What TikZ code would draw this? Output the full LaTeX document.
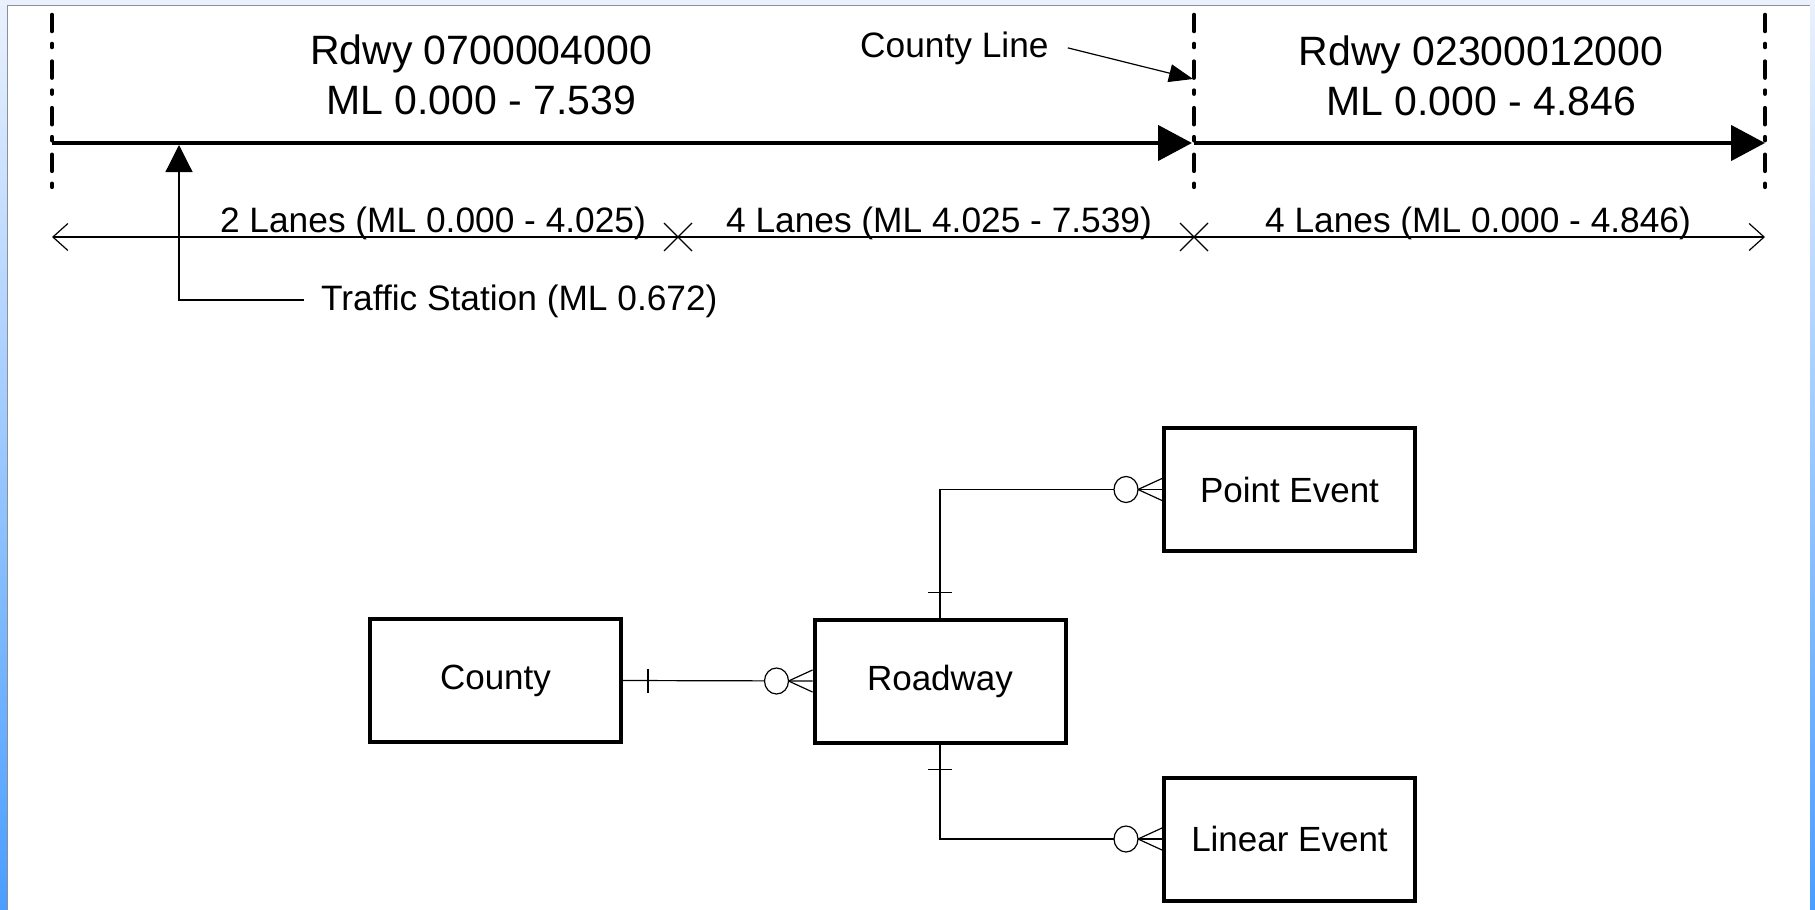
\documentclass[tikz,border=0pt]{standalone}
\usepackage{fontspec}
\setmainfont{Liberation Sans}
\usetikzlibrary{arrows.meta,calc}
\definecolor{frameblue}{HTML}{4A9EFF}
\definecolor{framelight}{HTML}{EAF1FD}
\definecolor{framegrey}{HTML}{8A9099}
\begin{document}
\begin{tikzpicture}[x=1pt,y=-1pt,
  bigtext/.style={font=\fontsize{41}{50}\selectfont, inner sep=0pt},
  smalltext/.style={font=\fontsize{35.3}{42}\selectfont, inner sep=0pt},
  entity/.style={draw, line width=4pt, minimum width=251pt, minimum height=123pt, font=\fontsize{35}{42}\selectfont, inner sep=0pt},
  roadline/.style={line width=4.5pt, -{Triangle[length=34pt,width=35pt]}},
  boundary/.style={line width=4pt, line cap=round, dash pattern=on 16.6pt off 12.4pt on 3.6pt off 14pt},
  thinline/.style={line width=1.2pt},
  rel/.style={line width=1.2pt},
]
\useasboundingbox (0,0) rectangle (1815,910);
% window frame
\fill[white] (0,0) rectangle (1815,910);
\fill[framelight] (0,0) rectangle (1815,5);
\shade[top color=framelight, bottom color=frameblue] (0,0) rectangle (7,910);
\shade[top color=framelight, bottom color=frameblue] (1810,0) rectangle (1815,910);
\draw[framegrey, line width=1pt] (7.5,910) -- (7.5,5.5) -- (1810,5.5);

% boundaries
\coordinate (L0) at (52,143);
\coordinate (M0) at (1194,143);
\coordinate (R0) at (1765,143);
\coordinate (Mend) at (1192,143);
\draw[boundary] (52,14.7) -- (52,190);
\draw[boundary] (1194,14.7) -- (1194,192);
\draw[boundary] (1765,14.7) -- (1765,190);

% roadways
\draw[roadline] (L0) -- (Mend);
\draw[roadline] (M0) -- (R0);

% titles
\node[bigtext, anchor=base] (t1a) at (481,64) {Rdwy 0700004000};
\node[bigtext, anchor=base] (t1b) at (481,114) {ML 0.000 - 7.539};
\node[bigtext, anchor=base] (t2a) at (1481,65) {Rdwy 02300012000};
\node[bigtext, anchor=base] (t2b) at (1481,115) {ML 0.000 - 4.846};

% county line label
\node[smalltext, anchor=base west] (cline) at (860,57) {County Line};
\coordinate (ctip) at (1193,79);
\draw[thinline, -{Triangle[length=24pt,width=18pt]}] ([xshift=19pt]cline.east) -- (ctip);

% lanes dimension line
\coordinate (D0) at (52,237);
\coordinate (D1) at (1765,237);
\draw[thinline, {Straight Barb[length=15pt,width=27pt]}-{Straight Barb[length=15pt,width=27pt]}] (D0) -- (D1);
\coordinate (X1) at (678,237);
\coordinate (X2) at (1194,237);
\draw[thinline] ($(X1)+(-14,-14)$) -- ($(X1)+(14,14)$) ($(X1)+(-14,14)$) -- ($(X1)+(14,-14)$);
\draw[thinline] ($(X2)+(-14,-14)$) -- ($(X2)+(14,14)$) ($(X2)+(-14,14)$) -- ($(X2)+(14,-14)$);
\node[smalltext, anchor=base] (lane1) at (433,232) {2 Lanes (ML 0.000 - 4.025)};
\node[smalltext, anchor=base] (lane2) at (939,232) {4 Lanes (ML 4.025 - 7.539)};
\node[smalltext, anchor=base] (lane3) at (1478,232) {4 Lanes (ML 0.000 - 4.846)};

% traffic station
\node[smalltext, anchor=base west] (ts) at (321,310) {Traffic Station (ML 0.672)};
\coordinate (tstip) at (179,145);
\coordinate (tsend) at (304,300);
\draw[thinline, -{Triangle[length=27pt,width=27pt]}] (tsend) -| (tstip);

% entities
\node[entity] (county) at (495.5,680.5) {County};
\node[entity] (road) at (940,681) {Roadway};
\node[entity] (pe) at (1289.5,489.5) {Point Event};
\node[entity] (le) at (1289.5,839) {Linear Event};

% County - Roadway
\draw[rel] (county.east) -- (road.west);
\draw[rel] ($(county.east)+(25,-12)$) -- ($(county.east)+(25,12)$);
\draw[rel, fill=white] ($(road.west)+(-36,0)$) ellipse[x radius=12pt, y radius=13pt];
\draw[rel] ($(road.west)+(-24,0)$) -- ($(road.west)+(0,-11)$);
\draw[rel] ($(road.west)+(-24,0)$) -- ($(road.west)+(0,11)$);

% Roadway - Point Event
\draw[rel] (road.north) |- (pe.west);
\draw[rel] ($(road.north)+(-12,-25)$) -- ($(road.north)+(12,-25)$);
\draw[rel, fill=white] ($(pe.west)+(-36,0)$) ellipse[x radius=12pt, y radius=13pt];
\draw[rel] ($(pe.west)+(-24,0)$) -- ($(pe.west)+(0,-11)$);
\draw[rel] ($(pe.west)+(-24,0)$) -- ($(pe.west)+(0,11)$);

% Roadway - Linear Event
\draw[rel] (road.south) |- (le.west);
\draw[rel] ($(road.south)+(-12,25)$) -- ($(road.south)+(12,25)$);
\draw[rel, fill=white] ($(le.west)+(-36,0)$) ellipse[x radius=12pt, y radius=13pt];
\draw[rel] ($(le.west)+(-24,0)$) -- ($(le.west)+(0,-11)$);
\draw[rel] ($(le.west)+(-24,0)$) -- ($(le.west)+(0,11)$);
\end{tikzpicture}
\end{document}
